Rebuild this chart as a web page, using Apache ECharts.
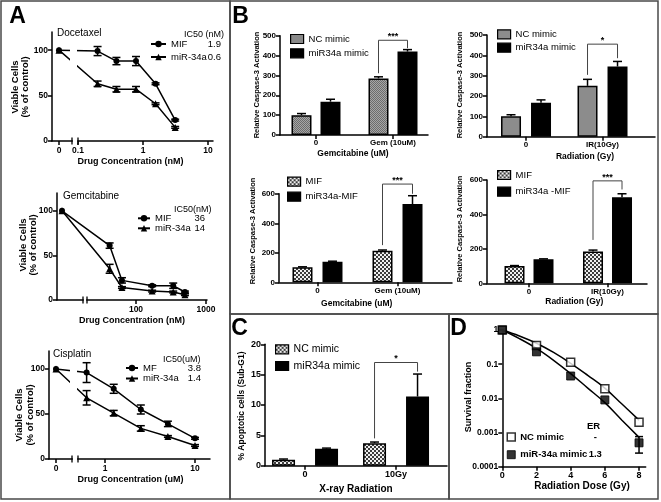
<!DOCTYPE html>
<html><head><meta charset="utf-8">
<script src="https://cdn.jsdelivr.net/npm/echarts@6/dist/echarts.min.js"></script>
<style>html,body{margin:0;padding:0;background:#fff}#c{width:661px;height:502px}</style>
</head><body><div id="c"></div>
<script>
// ================= DATA =================
// Panel A – viability curves
const docConc = [0, 0.2, 0.39, 0.78, 1.56, 3.125];
const docMIF = [100, 99, 88, 88, 63, 23];
const docMIFErr = [0, 5, 4, 5, 1, 1];
const docMiR = [100, 63, 57, 57, 41, 15];
const docMiRErr = [0, 3, 3, 3, 1, 1];
const docIC50 = ['1.9', '0.6'];

const gemConc = [0, 42, 63, 170, 340, 500];
const gemMIF = [100, 61, 22, 16, 16, 9];
const gemMIFErr = [0, 3, 3, 1, 3, 1];
const gemMiR = [100, 35, 14, 10, 9, 6];
const gemMiRErr = [0, 5, 1, 1, 1, 1];
const gemIC50 = ['36', '14'];

const cisConc = [0, 0.625, 1.25, 2.5, 5, 10];
const cisMIF = [100, 96, 78, 55, 39, 23];
const cisMIFErr = [0, 11, 5, 5, 3, 1];
const cisMiR = [100, 68, 51, 34, 25, 15];
const cisMiRErr = [0, 8, 3, 3, 1, 1];
const cisIC50 = ['3.8', '1.4'];

const aYTicks = [0, 50, 100];
const docXLabels = ['0', '0.1', '1', '10'];
const gemXLabels = ['100', '1000'];
const cisXLabels = ['0', '1', '10'];

// Panel B – caspase-3 activation
const b1Cats = ['0', 'Gem (10uM)'];
const b1NC = [100, 285], b1NCErr = [8, 8];
const b1MiR = [168, 420], b1MiRErr = [12, 10];
const b1Sig = [311, 437, 477], b1SigLabel = '***';

const b2Cats = ['0', 'IR(10Gy)'];
const b2NC = [100, 250], b2NCErr = [8, 32];
const b2MiR = [167, 345], b2MiRErr = [14, 25];
const b2Sig = [304, 386, 455], b2SigLabel = '*';

const b3Cats = ['0', 'Gem (10uM)'];
const b3MIF = [102, 214], b3MIFErr = [3, 5];
const b3MiR = [140, 530], b3MiRErr = [3, 57];
const b3Sig = [252, 600, 666], b3SigLabel = '***';

const b4Cats = ['0', 'IR(10Gy)'];
const b4MIF = [100, 185], b4MIFErr = [3, 8];
const b4MiR = [140, 500], b4MiRErr = [2, 20];
const b4Sig = [252, 545, 595], b4SigLabel = '***';

// Panel C – apoptosis
const cCats = ['0', '10Gy'];
const cNC = [1.0, 3.7], cNCErr = [0.1, 0.2];
const cMiR = [2.8, 11.4], cMiRErr = [0.1, 3.7];
const cSig = [4.5, 15.5, 17], cSigLabel = '*';

// Panel D – clonogenic survival
const dDose = [0, 2, 4, 6, 8];
const dNC = [1, 0.35, 0.114, 0.019, 0.002];
const dMiR = [1, 0.23, 0.045, 0.009, 0.0005];
const dMiRErrLow = [null, null, null, null, 0.00025];
const dMiRErrHigh = [null, null, null, null, 0.00076];
const dFitDose = [0, 1, 2, 3, 4, 5, 6, 7, 8];
const dFitNC = [1, 0.67, 0.41, 0.22, 0.106, 0.047, 0.020, 0.0068, 0.0023];
const dFitMiR = [1, 0.56, 0.29, 0.13, 0.053, 0.020, 0.0075, 0.0023, 0.00072];
const dYTicks = [1, 0.1, 0.01, 0.001, 0.0001];
const dYLabels = ['1', '0.1', '0.01', '0.001', '0.0001'];
const dXTicks = [0, 2, 4, 6, 8];
const dER = ['-', '1.3'];

// ================= BUILD =================
const FONT = '"Liberation Sans", Arial, Helvetica, sans-serif';
const grids = [], xAxes = [], yAxes = [], series = [], legends = [], graphics = [];
const legendText = {};

function pat(c1, c2, s) {
  const cv = document.createElement('canvas');
  cv.width = cv.height = 2 * s;
  const g = cv.getContext('2d');
  g.fillStyle = c1; g.fillRect(0, 0, 2 * s, 2 * s);
  g.fillStyle = c2; g.fillRect(0, 0, s, s); g.fillRect(s, s, s, s);
  return { image: cv, repeat: 'repeat' };
}
function fmtFrom(vals, labels) {
  return function (v) {
    for (let i = 0; i < vals.length; i++) {
      if (Math.abs(v - vals[i]) <= Math.abs(vals[i]) * 1e-6 + 1e-9) return labels[i];
    }
    return '';
  };
}
const axLine = { show: true, onZero: false, lineStyle: { color: '#000', width: 1.5 } };
function tick(vals) { return { show: true, length: 4, customValues: vals, lineStyle: { color: '#000', width: 1.5 } }; }
function lab(vals, labels, size, margin) {
  return { customValues: vals, formatter: fmtFrom(vals, labels), color: '#000', fontFamily: FONT,
    fontWeight: 'bold', fontSize: size, margin: margin, showMinLabel: true, showMaxLabel: true, hideOverlap: false };
}
function addGrid(g) { grids.push({ left: g.left, top: g.top, width: g.w, height: g.h, containLabel: false }); return grids.length - 1; }

function errRender(off, cap, upOnly) {
  return function (params, api) {
    const x = api.value(0), m = api.value(1), lo = api.value(2), hi = api.value(3);
    if (!(hi > lo)) return null;
    const pH = api.coord([x, hi]), pL = api.coord([x, upOnly ? m : lo]);
    const px = pH[0] + off;
    const st = { stroke: '#000', lineWidth: 1.5 };
    const ch = [
      { type: 'line', shape: { x1: px, y1: pL[1], x2: px, y2: pH[1] }, style: st },
      { type: 'line', shape: { x1: px - cap, y1: pH[1], x2: px + cap, y2: pH[1] }, style: st }
    ];
    if (!upOnly) ch.push({ type: 'line', shape: { x1: px - cap, y1: pL[1], x2: px + cap, y2: pL[1] }, style: st });
    return { type: 'group', children: ch };
  };
}

// ---------- line panels (A) ----------
function linePanel(id, geo, conc, s1, e1, s2, e2, names, ic50, xVals, xLabels, leg) {
  const gi = addGrid(geo);
  const xi = xAxes.length, yi = yAxes.length;
  xAxes.push({ gridIndex: gi, type: 'log', logBase: 10, min: geo.xmin, max: geo.xmax,
    axisLine: axLine, axisTick: tick(xVals), axisLabel: lab(xVals, xLabels, 8.5, 5), splitLine: { show: false }, minorTick: { show: false } });
  yAxes.push({ gridIndex: gi, type: 'value', min: 0, max: 120,
    axisLine: axLine, axisTick: tick(aYTicks), axisLabel: lab(aYTicks, aYTicks.map(String), 8.5, 4), splitLine: { show: false } });
  const xs = conc.map(c => c === 0 ? geo.zeroAt : c);
  const defs = [[s1, e1, 'circle', 6, 'MIF'], [s2, e2, 'triangle', 7, 'miR']];
  const legData = [];
  defs.forEach((d, k) => {
    const nm = id + ' ' + d[4];
    legendText[nm] = '{n|' + names[k] + '}{v|' + ic50[k] + '}';
    legData.push(nm);
    series.push({ type: 'line', name: nm, xAxisIndex: xi, yAxisIndex: yi, data: xs.map((x, i) => [x, d[0][i]]),
      symbol: d[2], symbolSize: d[3], itemStyle: { color: '#000' }, lineStyle: { color: '#000', width: 1.5 }, z: 3 });
    series.push({ type: 'custom', xAxisIndex: xi, yAxisIndex: yi, silent: true, z: 4,
      data: xs.map((x, i) => [x, d[0][i], d[0][i] - d[1][i], d[0][i] + d[1][i]]), renderItem: errRender(0, 4, false) });
  });
  legends.push({ left: leg.left, top: leg.top, orient: 'vertical', padding: 0, itemWidth: leg.iw, itemHeight: 8, itemGap: leg.gap,
    data: legData, selectedMode: false, formatter: n => legendText[n],
    textStyle: { fontFamily: FONT, fontSize: 9.5, color: '#000', lineHeight: leg.lh,
      rich: { n: { width: leg.nw, fontFamily: FONT, fontSize: 9.5, lineHeight: leg.lh }, v: { width: leg.vw, align: 'right', fontFamily: FONT, fontSize: 9.5, lineHeight: leg.lh } } } });
  // axis break decoration
  const ay = geo.top + geo.h;
  if (geo.gapLines) graphics.push({ type: 'rect', z: 100, shape: { x: geo.gapLines[0], y: geo.top, width: geo.gapLines[1] - geo.gapLines[0], height: geo.h - 2 }, style: { fill: '#fff' } });
  graphics.push({ type: 'rect', z: 100, shape: { x: geo.brk[0] + 0.8, y: ay - 2, width: geo.brk[1] - geo.brk[0] - 1.6, height: 4 }, style: { fill: '#fff' } });
  graphics.push({ type: 'line', z: 101, shape: { x1: geo.brk[0], y1: ay - 3.5, x2: geo.brk[0], y2: ay + 3.5 }, style: { stroke: '#000', lineWidth: 1.3 } });
  graphics.push({ type: 'line', z: 101, shape: { x1: geo.brk[1], y1: ay - 3.5, x2: geo.brk[1], y2: ay + 3.5 }, style: { stroke: '#000', lineWidth: 1.3 } });
}

linePanel('A1', { left: 52, top: 32, w: 161, h: 109, xmin: 0.0398, xmax: 11.94, zeroAt: 0.051, brk: [72, 78], gapLines: [70, 77] },
  docConc, docMIF, docMIFErr, docMiR, docMiRErr, ['MIF', 'miR-34a'], docIC50,
  [0.051, 0.1, 1, 10], docXLabels, { left: 150, top: 38.5, iw: 15, gap: 2, lh: 11, nw: 34, vw: 16 });
linePanel('A2', { left: 57, top: 193, w: 150, h: 107, xmin: 7.44, xmax: 1033, zeroAt: 8.77, brk: [83, 87] },
  gemConc, gemMIF, gemMIFErr, gemMiR, gemMiRErr, ['MIF', 'miR-34a'], gemIC50,
  [100, 1000], gemXLabels, { left: 137, top: 213.3, iw: 12, gap: 0, lh: 10, nw: 36, vw: 14 });
linePanel('A3', { left: 49, top: 351, w: 161, h: 108, xmin: 0.2387, xmax: 14.68, zeroAt: 0.2855, brk: [72, 78], gapLines: [70, 77] },
  cisConc, cisMIF, cisMIFErr, cisMiR, cisMiRErr, ['MF', 'miR-34a'], cisIC50,
  [0.2855, 1, 10], cisXLabels, { left: 125, top: 363, iw: 12, gap: 0.5, lh: 10, nw: 44, vw: 14 });

// ---------- bar panels (B, C) ----------
function barPanel(id, geo, cats, v1, e1, v2, e2, names, fills, sig, sigLabel, leg) {
  const gi = addGrid(geo);
  const xi = xAxes.length, yi = yAxes.length;
  const xv = cats.map((c, i) => i);
  xAxes.push({ gridIndex: gi, type: 'value', min: geo.xmin, max: geo.xmax,
    axisLine: axLine, axisTick: tick(xv), axisLabel: lab(xv, cats, geo.fs, 4), splitLine: { show: false } });
  const yv = []; for (let v = 0; v <= geo.ymax; v += geo.yint) yv.push(v);
  yAxes.push({ gridIndex: gi, type: 'value', min: 0, max: geo.ymax, interval: geo.yint,
    axisLine: axLine, axisTick: tick(yv), axisLabel: lab(yv, yv.map(String), geo.fs, 4), splitLine: { show: false } });
  const off = (geo.bw + geo.gap) / 2;
  const legData = [];
  [[v1, e1, -off], [v2, e2, off]].forEach((d, k) => {
    const nm = id + ' s' + k;
    legendText[nm] = names[k];
    legData.push({ name: nm, icon: 'rect', itemStyle: { borderColor: '#000', borderWidth: 1.2 } });
    series.push({ type: 'bar', name: nm, xAxisIndex: xi, yAxisIndex: yi, data: d[0].map((v, i) => [i, v]),
      barWidth: geo.bw, barGap: (geo.gap / geo.bw * 100) + '%', itemStyle: { color: fills[k], borderColor: '#000', borderWidth: 1.5 }, z: 2 });
    series.push({ type: 'custom', xAxisIndex: xi, yAxisIndex: yi, silent: true, z: 3,
      data: d[0].map((v, i) => [i, v, v, v + d[1][i]]), renderItem: errRender(d[2], 4.5, true) });
  });
  series.push({ type: 'custom', xAxisIndex: xi, yAxisIndex: yi, silent: true, z: 3, clip: false,
    data: [[1, sig[0], sig[1], sig[2]]],
    renderItem: function (params, api) {
      const pL = api.coord([api.value(0), api.value(1)]), pR = api.coord([api.value(0), api.value(2)]), pT = api.coord([api.value(0), api.value(3)]);
      const xl = pL[0] - off, xr = pL[0] + off;
      return { type: 'group', children: [
        { type: 'polyline', shape: { points: [[xl, pL[1]], [xl, pT[1]], [xr, pT[1]], [xr, pR[1]]] }, style: { stroke: '#444', lineWidth: 1, fill: null } },
        { type: 'text', x: (xl + xr) / 2, y: pT[1] + 1, style: { text: sigLabel, align: 'center', verticalAlign: 'bottom', font: 'bold 9px ' + FONT, fill: '#000' } }
      ] };
    } });
  legends.push({ left: leg.left, top: leg.top, orient: 'vertical', padding: 0, itemWidth: leg.iw, itemHeight: leg.ih, itemGap: leg.gap,
    data: legData, selectedMode: false, formatter: n => legendText[n],
    textStyle: { fontFamily: FONT, fontSize: leg.fs, color: '#000', lineHeight: leg.lh } });
}

const checker = pat('#f0f0f0', '#3c3c3c', 2);
const grayTex = pat('#a6a6a6', '#6c6c6c', 1);

barPanel('B1', { left: 280, top: 35.7, w: 148, h: 99.3, xmin: -0.4675, xmax: 1.4545, ymax: 500, yint: 100, bw: 20, gap: 9, fs: 8 },
  b1Cats, b1NC, b1NCErr, b1MiR, b1MiRErr, ['NC mimic', 'miR34a mimic'], [grayTex, '#000'], b1Sig, b1SigLabel,
  { left: 290, top: 33, iw: 13, ih: 9, gap: 2.3, lh: 12, fs: 9.5 });
barPanel('B2', { left: 487, top: 35, w: 168, h: 101.7, xmin: -0.51, xmax: 1.686, ymax: 500, yint: 100, bw: 20, gap: 10, fs: 8 },
  b2Cats, b2NC, b2NCErr, b2MiR, b2MiRErr, ['NC mimic', 'miR34a mimic'], ['#8c8c8c', '#000'], b2Sig, b2SigLabel,
  { left: 497, top: 28.3, iw: 13, ih: 9, gap: 1.4, lh: 12, fs: 9.5 });
barPanel('B3', { left: 279, top: 193.8, w: 173, h: 88.5, xmin: -0.481, xmax: 1.681, ymax: 600, yint: 200, bw: 20, gap: 10, fs: 8 },
  b3Cats, b3MIF, b3MIFErr, b3MiR, b3MiRErr, ['MIF', 'miR34a-MIF'], [checker, '#000'], b3Sig, b3SigLabel,
  { left: 287, top: 175.7, iw: 13, ih: 9, gap: 3, lh: 12, fs: 9.5 });
barPanel('B4', { left: 487, top: 180, w: 160, h: 103.3, xmin: -0.535, xmax: 1.503, ymax: 600, yint: 200, bw: 20, gap: 9, fs: 8 },
  b4Cats, b4MIF, b4MIFErr, b4MiR, b4MiRErr, ['MIF', 'miR34a -MIF'], [checker, '#000'], b4Sig, b4SigLabel,
  { left: 497, top: 169, iw: 13, ih: 9, gap: 4.7, lh: 12, fs: 9.5 });
barPanel('C', { left: 265, top: 344.3, w: 182, h: 121.4, xmin: -0.44, xmax: 1.56, ymax: 20, yint: 5, bw: 23, gap: 20, fs: 9 },
  cCats, cNC, cNCErr, cMiR, cMiRErr, ['NC mimic', 'miR34a mimic'], [checker, '#000'], cSig, cSigLabel,
  { left: 275, top: 343.3, iw: 13, ih: 9, gap: 4.7, lh: 12, fs: 10.5 });

// ---------- survival panel (D) ----------
(function () {
  const gi = addGrid({ left: 502.3, top: 330, w: 143.4, h: 136.7 });
  const xi = xAxes.length, yi = yAxes.length;
  xAxes.push({ gridIndex: gi, type: 'value', min: 0, max: 8.39,
    axisLine: axLine, axisTick: tick(dXTicks), axisLabel: lab(dXTicks, dXTicks.map(String), 9, 4), splitLine: { show: false } });
  yAxes.push({ gridIndex: gi, type: 'log', logBase: 10, min: 0.0001, max: 1,
    axisLine: axLine, axisTick: tick(dYTicks), axisLabel: lab(dYTicks, dYLabels, 8.5, 4), splitLine: { show: false }, minorTick: { show: false } });
  series.push({ type: 'line', xAxisIndex: xi, yAxisIndex: yi, data: dFitDose.map((x, i) => [x, dFitNC[i]]), smooth: 0.4,
    symbol: 'none', lineStyle: { color: '#000', width: 1.5 }, z: 2, silent: true });
  series.push({ type: 'line', xAxisIndex: xi, yAxisIndex: yi, data: dFitDose.map((x, i) => [x, dFitMiR[i]]), smooth: 0.4,
    symbol: 'none', lineStyle: { color: '#000', width: 1.5 }, z: 2, silent: true });
  series.push({ type: 'custom', xAxisIndex: xi, yAxisIndex: yi, silent: true, z: 3,
    data: dDose.map((x, i) => [x, dMiR[i], dMiRErrLow[i], dMiRErrHigh[i]]).filter(r => r[2] != null), renderItem: errRender(0, 4, false) });
  legendText['D NC'] = '{n|NC mimic}{v|' + dER[0] + '}';
  legendText['D miR'] = '{n|miR-34a mimic}{v|' + dER[1] + '}';
  series.push({ type: 'scatter', name: 'D NC', xAxisIndex: xi, yAxisIndex: yi, data: dDose.map((x, i) => [x, dNC[i]]),
    symbol: 'rect', symbolSize: 8, itemStyle: { color: '#fff', borderColor: '#000', borderWidth: 1.5 }, z: 5 });
  series.push({ type: 'scatter', name: 'D miR', xAxisIndex: xi, yAxisIndex: yi, data: dDose.map((x, i) => [x, dMiR[i]]),
    symbol: 'rect', symbolSize: 8, itemStyle: { color: '#000', borderColor: '#000', borderWidth: 1 }, z: 6 });
  legends.push({ left: 506.5, top: 431, orient: 'vertical', padding: 0, itemWidth: 8, itemHeight: 8, itemGap: 5.7, selectedMode: false,
    data: [{ name: 'D NC', icon: 'rect', itemStyle: { color: '#fff', borderColor: '#000', borderWidth: 1.5 } },
           { name: 'D miR', icon: 'rect', itemStyle: { color: '#000', borderColor: '#000', borderWidth: 1 } }],
    formatter: n => legendText[n],
    textStyle: { fontFamily: FONT, fontSize: 9.5, fontWeight: 'bold', color: '#000', lineHeight: 12,
      rich: { n: { width: 68, fontFamily: FONT, fontSize: 9.5, fontWeight: 'bold', lineHeight: 12 }, v: { width: 14, align: 'center', fontFamily: FONT, fontSize: 9.5, fontWeight: 'bold', lineHeight: 12 } } } });
})();

// ---------- frames & texts ----------
const frame = { stroke: '#4a4a4a', lineWidth: 1.5, fill: null };
[[1, 1, 229, 498], [230, 1, 428, 313], [230, 314, 219, 185], [449, 314, 209, 185]].forEach(r =>
  graphics.push({ type: 'rect', z: 90, shape: { x: r[0], y: r[1], width: r[2], height: r[3] }, style: frame }));

function txt(x, y, s, font, align, rot) {
  graphics.push({ type: 'text', z: 110, x: x, y: y, rotation: rot ? Math.PI / 2 : 0,
    style: { text: s, font: font + ' ' + FONT, fill: '#000', align: align || 'left', verticalAlign: 'middle', lineHeight: 10.5 } });
}
// panel letters
txt(17.5, 17, 'A', 'bold 23px', 'center'); txt(240.5, 17, 'B', 'bold 23px', 'center');
txt(239.5, 329, 'C', 'bold 23px', 'center'); txt(458.5, 329, 'D', 'bold 23px', 'center');
// A texts
txt(57, 33.5, 'Docetaxel', '10px'); txt(184, 34.3, 'IC50 (nM)', '9px');
txt(63, 196.7, 'Gemcitabine', '10px'); txt(174, 209.3, 'IC50(nM)', '9px');
txt(53, 354.3, 'Cisplatin', '10px'); txt(163, 359.3, 'IC50(uM)', '9px');
txt(130.5, 162, 'Drug Concentration (nM)', 'bold 9px', 'center');
txt(132, 320.3, 'Drug Concentration (nM)', 'bold 9px', 'center');
txt(130.5, 480, 'Drug Concentration (uM)', 'bold 9px', 'center');
txt(20.5, 87, 'Viable Cells\n(% of control)', 'bold 9.5px', 'center', true);
txt(28.3, 245, 'Viable Cells\n(% of control)', 'bold 9.5px', 'center', true);
txt(25, 415, 'Viable Cells\n(% of control)', 'bold 9.5px', 'center', true);
// B texts
const bY = 'Relative Caspase-3 Activation';
txt(257, 85, bY, 'bold 7.5px', 'center', true); txt(460, 85, bY, 'bold 7.5px', 'center', true);
txt(253, 231, bY, 'bold 7.5px', 'center', true); txt(460, 229, bY, 'bold 7.5px', 'center', true);
txt(353, 153.3, 'Gemcitabine (uM)', 'bold 8.5px', 'center');
txt(585, 156.7, 'Radiation (Gy)', 'bold 8.5px', 'center');
txt(356.7, 303.3, 'Gemcitabine (uM)', 'bold 8.5px', 'center');
txt(574.3, 301.7, 'Radiation (Gy)', 'bold 8.5px', 'center');
// C texts
txt(356, 489, 'X-ray Radiation', 'bold 10px', 'center');
txt(241.7, 406, '% Apoptotic cells (Sub-G1)', 'bold 8.5px', 'center', true);
// D texts
txt(582, 486.7, 'Radiation Dose (Gy)', 'bold 10px', 'center');
txt(469, 397, 'Survival fraction', 'bold 9px', 'center', true);
txt(593.5, 426.7, 'ER', 'bold 9.5px', 'center');

const chart = echarts.init(document.getElementById('c'), null, { renderer: 'canvas', width: 661, height: 502 });
chart.setOption({
  animation: false, backgroundColor: '#fff',
  grid: grids, xAxis: xAxes, yAxis: yAxes, series: series, legend: legends, graphic: { elements: graphics }
});
</script></body></html>
